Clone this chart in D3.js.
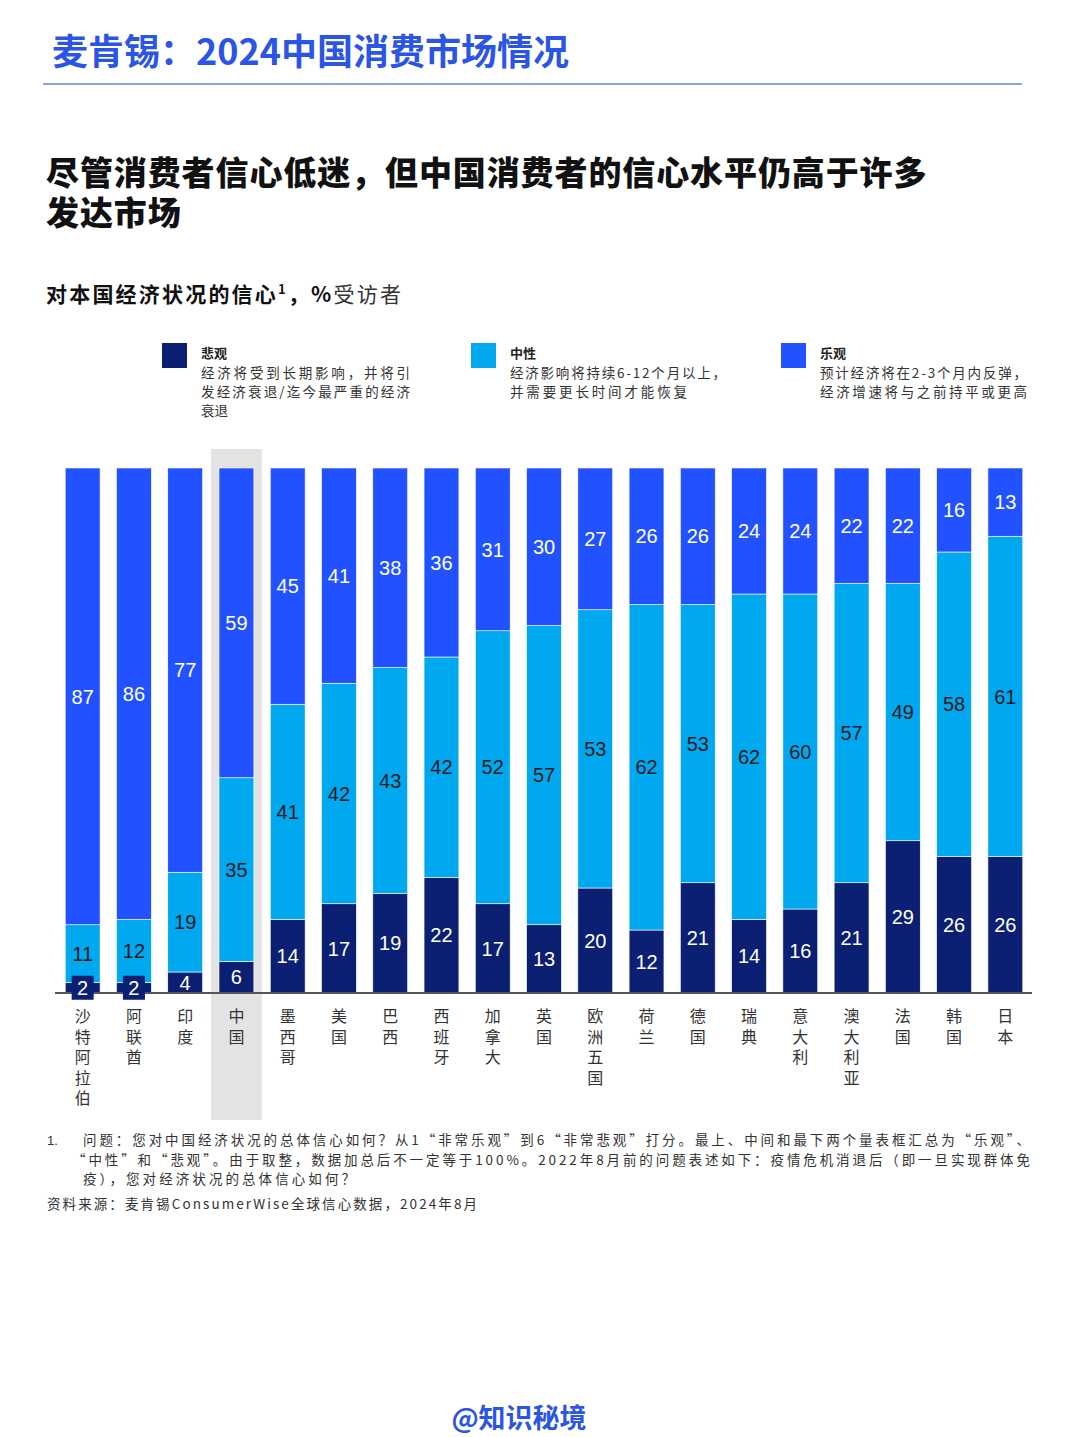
<!DOCTYPE html>
<html><head><meta charset="utf-8">
<script src="https://cdn.jsdelivr.net/npm/d3@7"></script>
<style>
html,body{margin:0;padding:0;background:#fff;}
svg{display:block;font-family:"Noto Sans CJK SC","Noto Sans",sans-serif;}
</style></head>
<body>
<svg id="chart" width="1080" height="1437"></svg>
<script>
const categories = ["沙特阿拉伯","阿联酋","印度","中国","墨西哥","美国","巴西","西班牙","加拿大","英国","欧洲五国","荷兰","德国","瑞典","意大利","澳大利亚","法国","韩国","日本"];
const pessimistic = [2,2,4,6,14,17,19,22,17,13,20,12,21,14,16,21,29,26,26];
const neutral =     [11,12,19,35,41,42,43,42,52,57,53,62,53,62,60,57,49,58,61];
const optimistic =  [87,86,77,59,45,41,38,36,31,30,27,26,26,24,24,22,22,16,13];
const seriesNames = ["悲观","中性","乐观"];
const seriesDesc = [
  ["经济将受到长期影响，并将引","发经济衰退/迄今最严重的经济","衰退"],
  ["经济影响将持续6-12个月以上，","并需要更长时间才能恢复"],
  ["预计经济将在2-3个月内反弹，","经济增速将与之前持平或更高"]
];
const highlight = "中国";

const colors = ["#0b1f73","#00a8ef","#2251ff"];
const labelColors = ["#ffffff","#1a1a1a","#ffffff"];

const svg = d3.select("#chart");

// Header
svg.append("text").attr("x",52).attr("y",65).attr("font-size",36).attr("font-weight",700)
  .attr("fill","#2a55e5").text("麦肯锡：2024中国消费市场情况");
svg.append("line").attr("x1",43).attr("x2",1022).attr("y1",84).attr("y2",84)
  .attr("stroke","#8fa3d9").attr("stroke-width",2);

// Title (one text element, two lines)
const titleLines = ["尽管消费者信心低迷，但中国消费者的信心水平仍高于许多","发达市场"];
const title = svg.append("text").attr("font-size",33).attr("font-weight",900)
  .attr("fill","#111").attr("letter-spacing",0.9);
titleLines.forEach((t,i)=>{
  title.append("tspan").attr("x",46).attr("y",185+i*40).text(t);
});

// Subtitle
const sub = svg.append("text").attr("x",46).attr("y",302).attr("font-size",21).attr("fill","#111").attr("letter-spacing",2.2);
sub.append("tspan").attr("font-weight",700).text("对本国经济状况的信心");
sub.append("tspan").attr("font-size",13).attr("dy",-8).attr("font-weight",700).text("1");
sub.append("tspan").attr("dy",8).attr("font-weight",700).text("，%");
sub.append("tspan").attr("fill","#333").text("受访者");

// Legend
const legendX = [162,471,781];
const legendW = [[209,209,0],[216,177],[207,207]];
seriesNames.forEach((n,i)=>{
  const g = svg.append("g").attr("transform",`translate(${legendX[i]},343)`);
  g.append("rect").attr("width",25).attr("height",25).attr("fill",colors[i]);
  g.append("text").attr("x",39).attr("y",15).attr("font-size",13).attr("font-weight",700).attr("fill","#222").text(n);
  seriesDesc[i].forEach((l,j)=>{
    const t = g.append("text").attr("x",39).attr("y",35+j*19).attr("font-size",13.5).attr("fill","#333").text(l);
    if (legendW[i][j]) t.attr("textLength",legendW[i][j]).attr("lengthAdjust","spacing");
  });
});

// Chart
const plotTop = 468, plotBase = 993;
const x = d3.scaleBand().domain(categories).range([56,1032]).paddingInner(0.32).paddingOuter(0.18);
const y = d3.scaleLinear().domain([0,100]).range([plotBase,plotTop]);

// highlight box
const hx = x(highlight);
svg.append("rect").attr("x",hx-8).attr("y",449).attr("width",x.bandwidth()+16).attr("height",671).attr("fill","#e3e3e3");

const data = categories.map((c,i)=>({cat:c, 0:pessimistic[i], 1:neutral[i], 2:optimistic[i]}));
const stack = d3.stack().keys([0,1,2])(data);

stack.forEach((layer,k)=>{
  const g = svg.append("g");
  g.selectAll("rect").data(layer).join("rect")
    .attr("x",d=>x(d.data.cat)).attr("width",x.bandwidth())
    .attr("y",d=>y(d[1])).attr("height",d=>y(d[0])-y(d[1]))
    .attr("fill",colors[k]).attr("stroke","#fff").attr("stroke-width",0.6);
});

// axis line
svg.append("line").attr("x1",55).attr("x2",1032).attr("y1",plotBase).attr("y2",plotBase).attr("stroke","#555").attr("stroke-width",2);

// value labels
stack.forEach((layer,k)=>{
  layer.forEach(d=>{
    const v = d[1]-d[0];
    const cx = x(d.data.cat)+x.bandwidth()/2;
    const cy = (y(d[0])+y(d[1]))/2;
    if (y(d[0])-y(d[1]) < 20){
      svg.append("rect").attr("x",cx-11).attr("y",cy-12).attr("width",22).attr("height",24).attr("fill",colors[k]);
    }
    svg.append("text").attr("x",cx).attr("y",cy).attr("dy","0.36em").attr("text-anchor","middle")
      .attr("font-family","'Liberation Sans',Arial,sans-serif").attr("font-size",20)
      .attr("fill",labelColors[k]).text(v);
  });
});

// x axis labels (vertical text)
svg.append("g").selectAll("text").data(categories).join("text")
  .attr("x",c=>x(c)+x.bandwidth()/2).attr("y",1008)
  .attr("writing-mode","vertical-rl")
  .style("text-orientation","upright")
  .attr("letter-spacing",4.5)
  .attr("font-size",16).attr("fill","#333").text(c=>c);

// Footnote
const fn = [
  "问题：您对中国经济状况的总体信心如何？从1“非常乐观”到6“非常悲观”打分。最上、中间和最下两个量表框汇总为“乐观”、",
  "“中性”和“悲观”。由于取整，数据加总后不一定等于100%。2022年8月前的问题表述如下：疫情危机消退后（即一旦实现群体免",
  "疫），您对经济状况的总体信心如何？"
];
const fnX = [83,72,83], fnW = [947,958,272];
svg.append("text").attr("x",47).attr("y",1145).attr("font-size",13).attr("fill","#333").attr("font-family","'Liberation Sans',Arial,sans-serif").text("1.");
fn.forEach((l,i)=>{
  svg.append("text").attr("x",fnX[i]).attr("y",1145+i*19.5).attr("font-size",13.5).attr("fill","#333")
    .attr("textLength",fnW[i]).attr("lengthAdjust","spacing").text(l);
});
svg.append("text").attr("x",47).attr("y",1209).attr("font-size",13.5).attr("fill","#333")
  .attr("textLength",430).attr("lengthAdjust","spacing").text("资料来源：麦肯锡ConsumerWise全球信心数据，2024年8月");

// watermark
svg.append("text").attr("x",519).attr("y",1428).attr("text-anchor","middle").attr("font-size",27).attr("font-weight",700)
  .attr("fill","#2a55e5").text("@知识秘境");
</script>
</body></html>
